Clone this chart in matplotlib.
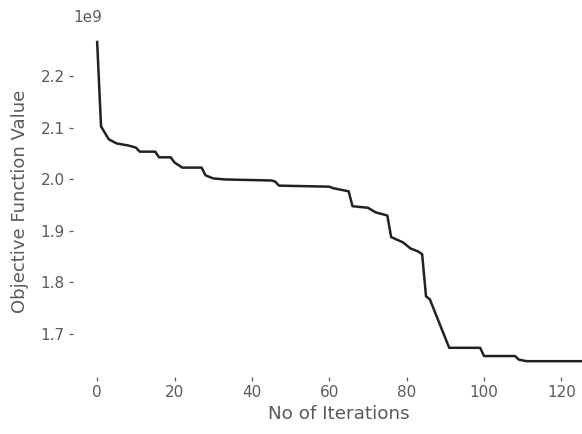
import matplotlib
matplotlib.use("Agg")
import matplotlib.pyplot as plt

# best objective value seen so far, at the iterations where it changes
iterations = [0, 1, 3, 5, 8, 10, 11, 15, 16, 19, 20, 22, 27, 28, 30, 33,
              45, 46, 47, 60, 61, 65, 66, 70, 72, 75, 76, 79, 81, 83, 84,
              85, 86, 91, 99, 100, 108, 109, 111, 125]
objective = [2.267, 2.103, 2.078, 2.070, 2.066, 2.062, 2.054, 2.054, 2.043,
             2.043, 2.033, 2.023, 2.023, 2.008, 2.002, 2.000, 1.998, 1.996,
             1.988, 1.986, 1.983, 1.977, 1.948, 1.945, 1.936, 1.930, 1.888,
             1.878, 1.866, 1.860, 1.855, 1.773, 1.767, 1.673, 1.673, 1.657,
             1.657, 1.650, 1.647, 1.647]
objective = [v * 1e9 for v in objective]

text_color = "#5a5a5a"

fig = plt.figure(figsize=(5.82, 4.34), dpi=100)
ax = fig.add_axes([0.1254, 0.131, 0.914, 0.809])

ax.plot(iterations, objective, color="#222222", linewidth=1.8)

for spine in ax.spines.values():
    spine.set_visible(False)

ax.tick_params(axis="both", colors=text_color, labelsize=11,
               length=3, width=0.9, pad=3)
ax.yaxis.get_offset_text().set_color(text_color)
ax.yaxis.get_offset_text().set_fontsize(11)

ax.set_xlabel("No of Iterations", fontsize=13.2, color=text_color, labelpad=3)
ax.set_ylabel("Objective Function Value", fontsize=13, color=text_color,
              labelpad=8)

fig.savefig("out.png", dpi=100)
